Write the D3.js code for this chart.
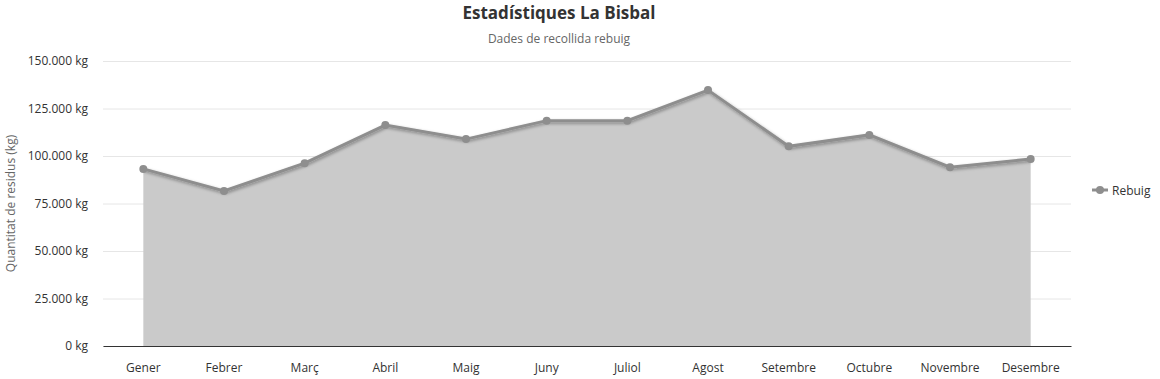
<!DOCTYPE html>
<html>
<head>
<meta charset="utf-8">
<script src="https://cdn.jsdelivr.net/npm/d3@7"></script>
<style>
  body { margin: 0; background: #fff; }
  #graph { width: 1160px; height: 379px; }
  text { font-family: "Open Sans", "Noto Sans", sans-serif; }
</style>
</head>
<body>
<div id="graph"></div>
<script>
var months = ["Gener", "Febrer", "Març", "Abril", "Maig", "Juny", "Juliol", "Agost", "Setembre", "Octubre", "Novembre", "Desembre"];
var rebuig = [93200, 81600, 96200, 116300, 108900, 118600, 118600, 134700, 105100, 111100, 94100, 98400];
var yTicks = [0, 25000, 50000, 75000, 100000, 125000, 150000];

var width = 1160, height = 379;
var margin = { top: 61, left: 103, bottom: 33, right: 89 };
var chartWidth = width - margin.left - margin.right;
var chartHeight = height - margin.top - margin.bottom;

var svg = d3.select("#graph").append("svg").attr("width", width).attr("height", height);

var defs = svg.append("defs");
var shadow = defs.append("filter").attr("id", "shadow")
  .attr("x", "-5%").attr("y", "-20%").attr("width", "110%").attr("height", "140%");
shadow.append("feDropShadow").attr("dx", 1).attr("dy", 1.5).attr("stdDeviation", 1.8)
  .attr("flood-color", "#000").attr("flood-opacity", 0.35);

var xScale = d3.scaleBand().domain(months).range([0, chartWidth]);
var yScale = d3.scaleLinear().domain([0, 150000]).range([chartHeight, 0]);
var xPos = function(d) { return xScale(d) + xScale.bandwidth() / 2; };

var fmt = function(v) { return d3.format(",")(v).replace(/,/g, ".") + " kg"; };

// title
svg.append("text").attr("x", 559).attr("y", 19).attr("text-anchor", "middle")
  .style("font-size", "17px").style("font-weight", "bold").attr("fill", "#333")
  .text("Estadístiques La Bisbal");
svg.append("text").attr("x", 559).attr("y", 43).attr("text-anchor", "middle")
  .style("font-size", "12px").attr("fill", "#666")
  .text("Dades de recollida rebuig");

var axisLayer = svg.append("g").attr("transform", "translate(" + [margin.left, margin.top] + ")");
var chartLayer = svg.append("g").attr("transform", "translate(" + [margin.left, margin.top] + ")");

// grid + y labels
var yAxis = axisLayer.append("g")
  .call(d3.axisLeft(yScale).tickValues(yTicks).tickFormat(fmt).tickSizeInner(-chartWidth).tickSizeOuter(0).tickPadding(15));
yAxis.select(".domain").remove();
yAxis.selectAll(".tick line").attr("stroke", "#e6e6e6");
yAxis.selectAll(".tick text").attr("fill", "#333").style("font-size", "12px")
  .style("font-family", "'Open Sans', sans-serif");

svg.append("text")
  .attr("transform", "translate(15," + (margin.top + chartHeight / 2) + ") rotate(-90)")
  .attr("text-anchor", "middle").style("font-size", "12px").attr("fill", "#666")
  .text("Quantitat de residus (kg)");

// area + line
var area = d3.area().x(function(d, i) { return xPos(months[i]); })
  .y0(chartHeight).y1(function(d) { return yScale(d); });
var line = d3.line().x(function(d, i) { return xPos(months[i]); })
  .y(function(d) { return yScale(d); });

chartLayer.append("path").datum(rebuig).attr("d", area).attr("fill", "#cacaca");
chartLayer.append("path").datum(rebuig).attr("d", line).attr("fill", "none")
  .attr("stroke", "#8e8e8e").attr("stroke-width", 3).attr("filter", "url(#shadow)");
chartLayer.selectAll(".point").data(rebuig).enter().append("circle")
  .attr("class", "point")
  .attr("cx", function(d, i) { return xPos(months[i]); })
  .attr("cy", function(d) { return yScale(d); })
  .attr("r", 4).attr("fill", "#8e8e8e");

// x axis
var xAxis = axisLayer.append("g").attr("transform", "translate(0," + chartHeight + ")")
  .call(d3.axisBottom(xScale).tickSize(0).tickPadding(17));
xAxis.select(".domain").attr("stroke", "#333");
xAxis.selectAll(".tick text").attr("fill", "#333").style("font-size", "12px")
  .style("font-family", "'Open Sans', sans-serif");

// legend
var legend = svg.append("g").attr("transform", "translate(1092,190)");
legend.append("line").attr("x1", 0).attr("x2", 16).attr("stroke", "#8e8e8e").attr("stroke-width", 3);
legend.append("circle").attr("cx", 8).attr("r", 4).attr("fill", "#8e8e8e");
legend.append("text").attr("x", 20).attr("y", 4.5).style("font-size", "12px").attr("fill", "#333")
  .text("Rebuig");
</script>
</body>
</html>
